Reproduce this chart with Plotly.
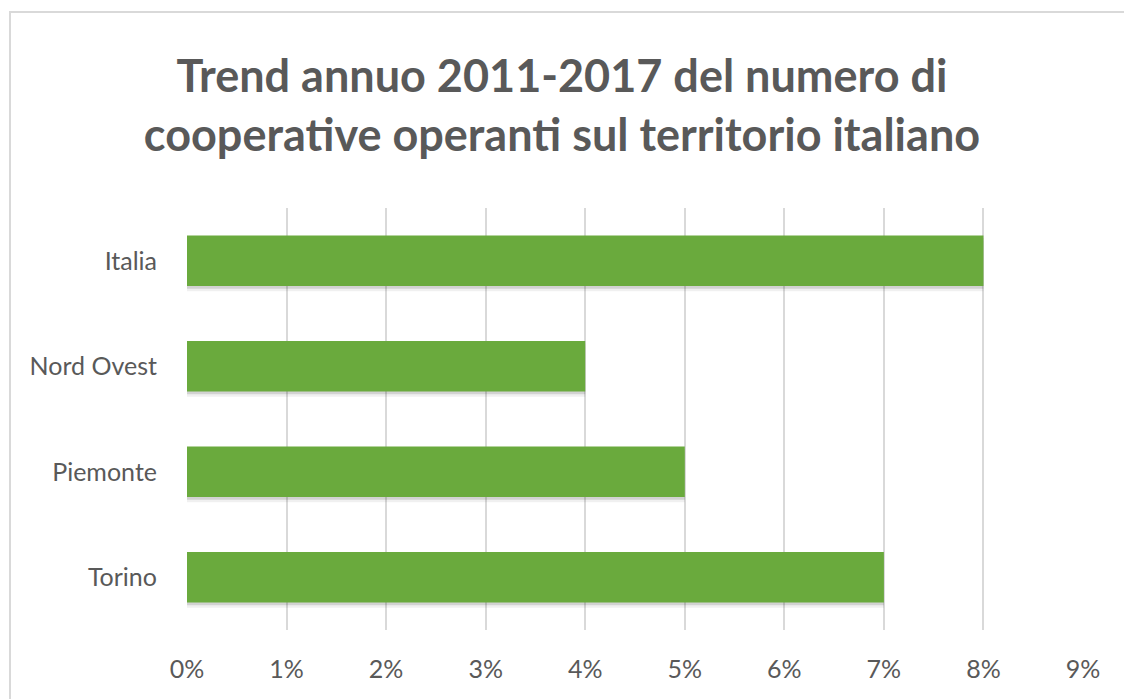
import plotly.graph_objects as go

categories = ["Italia", "Nord Ovest", "Piemonte", "Torino"]
values = [0.08, 0.04, 0.05, 0.07]
tick_vals = [0, 0.01, 0.02, 0.03, 0.04, 0.05, 0.06, 0.07, 0.08, 0.09]
tick_text = ["0%", "1%", "2%", "3%", "4%", "5%", "6%", "7%", "8%", "9%"]
title_text = "Trend annuo 2011-2017 del numero di<br>cooperative operanti sul territorio italiano"

FONT = "Lato"

fig = go.Figure()
# soft shadow layers
fig.add_trace(go.Bar(
    y=categories, x=values, orientation="h",
    marker=dict(color="rgba(0,0,0,0.06)", line=dict(width=0)),
    width=0.48, offset=-0.29, hoverinfo="skip", showlegend=False,
))
fig.add_trace(go.Bar(
    y=categories, x=values, orientation="h",
    marker=dict(color="rgba(0,0,0,0.12)", line=dict(width=0)),
    width=0.48, offset=-0.265, hoverinfo="skip", showlegend=False,
))
fig.add_trace(go.Bar(
    y=categories, x=values, orientation="h",
    marker=dict(color="#6aaa3d", line=dict(width=0)),
    width=0.48, offset=-0.24, showlegend=False,
))

fig.update_layout(
    width=1124, height=699,
    margin=dict(l=187, r=41, t=208, b=69),
    paper_bgcolor="white", plot_bgcolor="white",
    barmode="overlay",
    title=dict(text=title_text, x=0.5, xanchor="center", y=0.868, yanchor="bottom",
               font=dict(family=FONT, size=45, color="#595959", weight="bold")),
    xaxis=dict(range=[0, 0.09], tickvals=tick_vals, ticktext=tick_text,
               showgrid=True, gridcolor="#d9d9d9", gridwidth=2,
               zeroline=False, showline=False,
               ticks="outside", ticklen=17, tickcolor="rgba(0,0,0,0)",
               tickfont=dict(family=FONT, size=25, color="#595959")),
    yaxis=dict(categoryorder="array", categoryarray=categories[::-1],
               showgrid=False, zeroline=False, showline=False,
               ticks="outside", ticklen=24, tickcolor="rgba(0,0,0,0)",
               tickfont=dict(family=FONT, size=25, color="#595959")),
)
fig.add_shape(type="rect", xref="paper", yref="paper",
              x0=-177/896, x1=1.2, y0=-0.3, y1=(699-12-69)/422,
              line=dict(color="#d9d9d9", width=2), fillcolor="rgba(0,0,0,0)", layer="below")

fig.write_html("out.html")
